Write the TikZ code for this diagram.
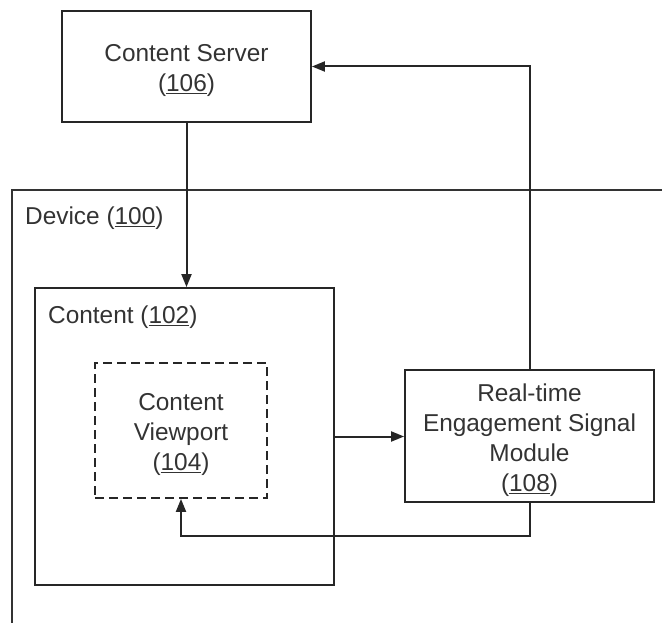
\documentclass[tikz,border=0pt]{standalone}
\usepackage{fontspec}
\setmainfont{Liberation Sans}
\usetikzlibrary{positioning,arrows.meta}
\newcommand{\padtop}{\rule{0pt}{26pt}}

\begin{document}
\begin{tikzpicture}[x=1pt,y=-1pt,
  box/.style={rectangle, draw=black!85, line width=1.8pt, align=center, text=black!80, font=\fontsize{24.4}{30}\selectfont},
  tagtext/.style={anchor=west, inner sep=0pt, text=black!80, font=\fontsize{24.4}{30}\selectfont},
  flow/.style={-{Triangle[length=13pt,width=10pt]}, line width=2pt, draw=black!85}]

\useasboundingbox (0,0) rectangle (662,623);

%Frame
\draw[line width=1.4pt, draw=black!80] (12,623) -- (12,190) -- (662,190);

%Nodes
\node[box, minimum width=249pt, minimum height=111pt] (server) at (186.5,66.5) {\padtop Content Server\\(\underline{106})};
\node[tagtext] (devicetag) at (25,218) {Device (\underline{100})};
\node[box, minimum width=299pt, minimum height=297pt] (content) at (184.5,436.5) {};
\node[tagtext] (contenttag) at (48,317) {Content (\underline{102})};
\node[box, dash pattern=on 9pt off 5pt, minimum width=172pt, minimum height=135pt] (viewport) at (181,430.5) {\padtop Content\\Viewport\\(\underline{104})};
\node[box, minimum width=249pt, minimum height=132pt] (module) at (529.5,436) {\padtop Real-time\\Engagement Signal\\Module\\(\underline{108})};

%line
\draw[flow] (server.south) -- (server.south |- content.north);
\draw[flow] (content.east) -- (content.east -| module.west);
\draw[flow] (module.south) -- ++(0,33) -| (viewport.south);
\draw[flow] (module.north) |- (server.east);

\end{tikzpicture}
\end{document}
